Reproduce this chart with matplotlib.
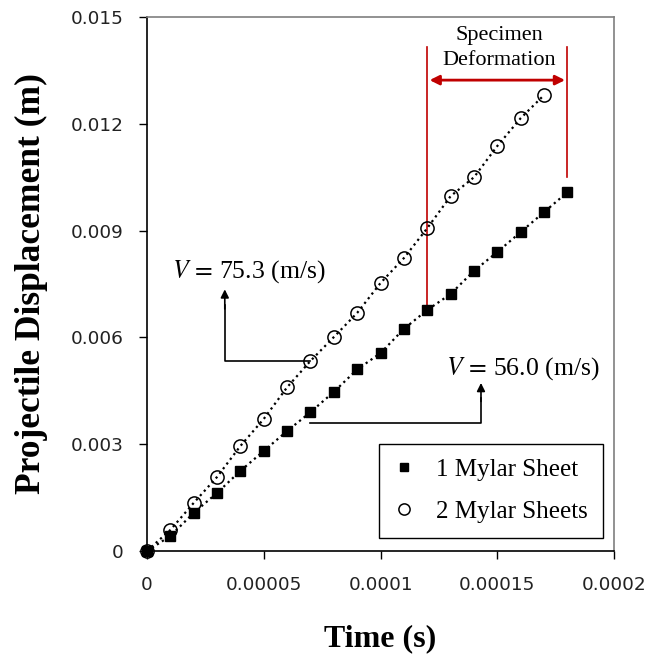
import matplotlib
matplotlib.use("Agg")
import matplotlib.pyplot as plt

plt.rcParams["font.family"] = ["Liberation Serif", "DejaVu Serif"]
plt.rcParams["mathtext.fontset"] = "stix"

# 1 Mylar sheet (filled squares)
t_one = [0, 0.00001, 0.00002, 0.00003, 0.00004, 0.00005, 0.00006, 0.00007, 0.00008, 0.00009,
         0.0001, 0.00011, 0.00012, 0.00013, 0.00014, 0.00015, 0.00016, 0.00017, 0.00018]
d_one = [0, 0.00042, 0.00107, 0.00163, 0.00225, 0.00281, 0.00337, 0.0039, 0.00447, 0.0051,
         0.00556, 0.00624, 0.00677, 0.00722, 0.00787, 0.0084, 0.00896, 0.00952, 0.01008]

# 2 Mylar sheets (open circles)
t_two = [0, 0.00001, 0.00002, 0.00003, 0.00004, 0.00005, 0.00006, 0.00007, 0.00008, 0.00009,
         0.0001, 0.00011, 0.00012, 0.00013, 0.00014, 0.00015, 0.00016, 0.00017]
d_two = [0, 0.00059, 0.00135, 0.00208, 0.00295, 0.00371, 0.0046, 0.00534, 0.00601, 0.00669,
         0.00753, 0.00823, 0.00907, 0.00997, 0.0105, 0.01138, 0.01216, 0.01281]

x_ticks = [0, 0.00005, 0.0001, 0.00015, 0.0002]
x_labels = ["0", "0.00005", "0.0001", "0.00015", "0.0002"]
y_ticks = [0, 0.003, 0.006, 0.009, 0.012, 0.015]
y_labels = ["0", "0.003", "0.006", "0.009", "0.012", "0.015"]

fig = plt.figure(figsize=(6.54, 6.59), dpi=100)
ax = fig.add_axes([0.2248, 0.164, 0.7142, 0.81])

ax.plot(t_one, d_one, color="black", linestyle=":", linewidth=1.6,
        marker="s", markersize=7.5, markerfacecolor="black", markeredgecolor="black",
        label="1 Mylar Sheet", zorder=3, clip_on=False)
ax.plot(t_two, d_two, color="black", linestyle=":", linewidth=1.6,
        marker="o", markersize=9.5, markerfacecolor="none", markeredgecolor="black",
        markeredgewidth=1.1, label="2 Mylar Sheets", zorder=3, clip_on=False)

ax.set_xlim(0, 0.0002)
ax.set_ylim(0, 0.015)
ax.set_xticks(x_ticks)
ax.set_xticklabels(x_labels)
ax.set_yticks(y_ticks)
ax.set_yticklabels(y_labels)
ax.tick_params(direction="out", length=6, width=1)
ax.tick_params(axis="x", labelsize=13.3, pad=12)
ax.tick_params(axis="y", labelsize=13.3, pad=11)
for lab in ax.get_xticklabels() + ax.get_yticklabels():
    lab.set_family("DejaVu Sans")
    lab.set_color("#222222")

for side in ["top", "right"]:
    ax.spines[side].set_color("#7f7f7f")
for side in ["left", "bottom"]:
    ax.spines[side].set_color("black")
for sp in ax.spines.values():
    sp.set_linewidth(1.2)

ax.set_xlabel("Time (s)", fontsize=23, fontweight="bold", labelpad=22)
ax.set_ylabel("Projectile Displacement (m)", fontsize=25.5, fontweight="bold", labelpad=16)

# specimen deformation markers
red = "#c00000"
ax.plot([0.00012, 0.00012], [0.00677, 0.01415], color=red, linewidth=1.2, zorder=2)
ax.plot([0.00018, 0.00018], [0.0105, 0.01415], color=red, linewidth=1.2, zorder=2)
ax.annotate("", xy=(0.000121, 0.01323), xytext=(0.000179, 0.01323),
            arrowprops=dict(arrowstyle="<|-|>", color=red, lw=2, mutation_scale=14,
                            shrinkA=0, shrinkB=0))
ax.text(0.000151, 0.01413, "Specimen\nDeformation", ha="center", va="center",
        fontsize=16, linespacing=1.45)

# velocity callouts
ax.plot([0.0000697, 0.0000333, 0.0000333], [0.00535, 0.00535, 0.0069],
        color="black", linewidth=1.2)
ax.annotate("", xy=(0.0000333, 0.00735), xytext=(0.0000333, 0.0068),
            arrowprops=dict(arrowstyle="-|>", color="black", lw=1.2, mutation_scale=12,
                            shrinkA=0, shrinkB=0))
ax.text(0.0000107, 0.00785, r"$V\,=\,$75.3 (m/s)", ha="left", va="center", fontsize=18.5)

ax.plot([0.0000697, 0.000143, 0.000143], [0.0036, 0.0036, 0.0043],
        color="black", linewidth=1.2)
ax.annotate("", xy=(0.000143, 0.00472), xytext=(0.000143, 0.0042),
            arrowprops=dict(arrowstyle="-|>", color="black", lw=1.2, mutation_scale=12,
                            shrinkA=0, shrinkB=0))
ax.text(0.000128, 0.00512, r"$V\,=\,$56.0 (m/s)", ha="left", va="center", fontsize=18.5)

leg = ax.legend(loc="lower right", bbox_to_anchor=(0.976, 0.024), borderaxespad=0,
                fontsize=18, fancybox=False, edgecolor="black", framealpha=1,
                handlelength=0.8, handletextpad=0.9, borderpad=0.6, labelspacing=0.78,
                markerscale=0.85)
leg.get_frame().set_linewidth(1.0)
for line in leg.get_lines():
    line.set_linestyle("none")

fig.savefig("out.png", dpi=100)
